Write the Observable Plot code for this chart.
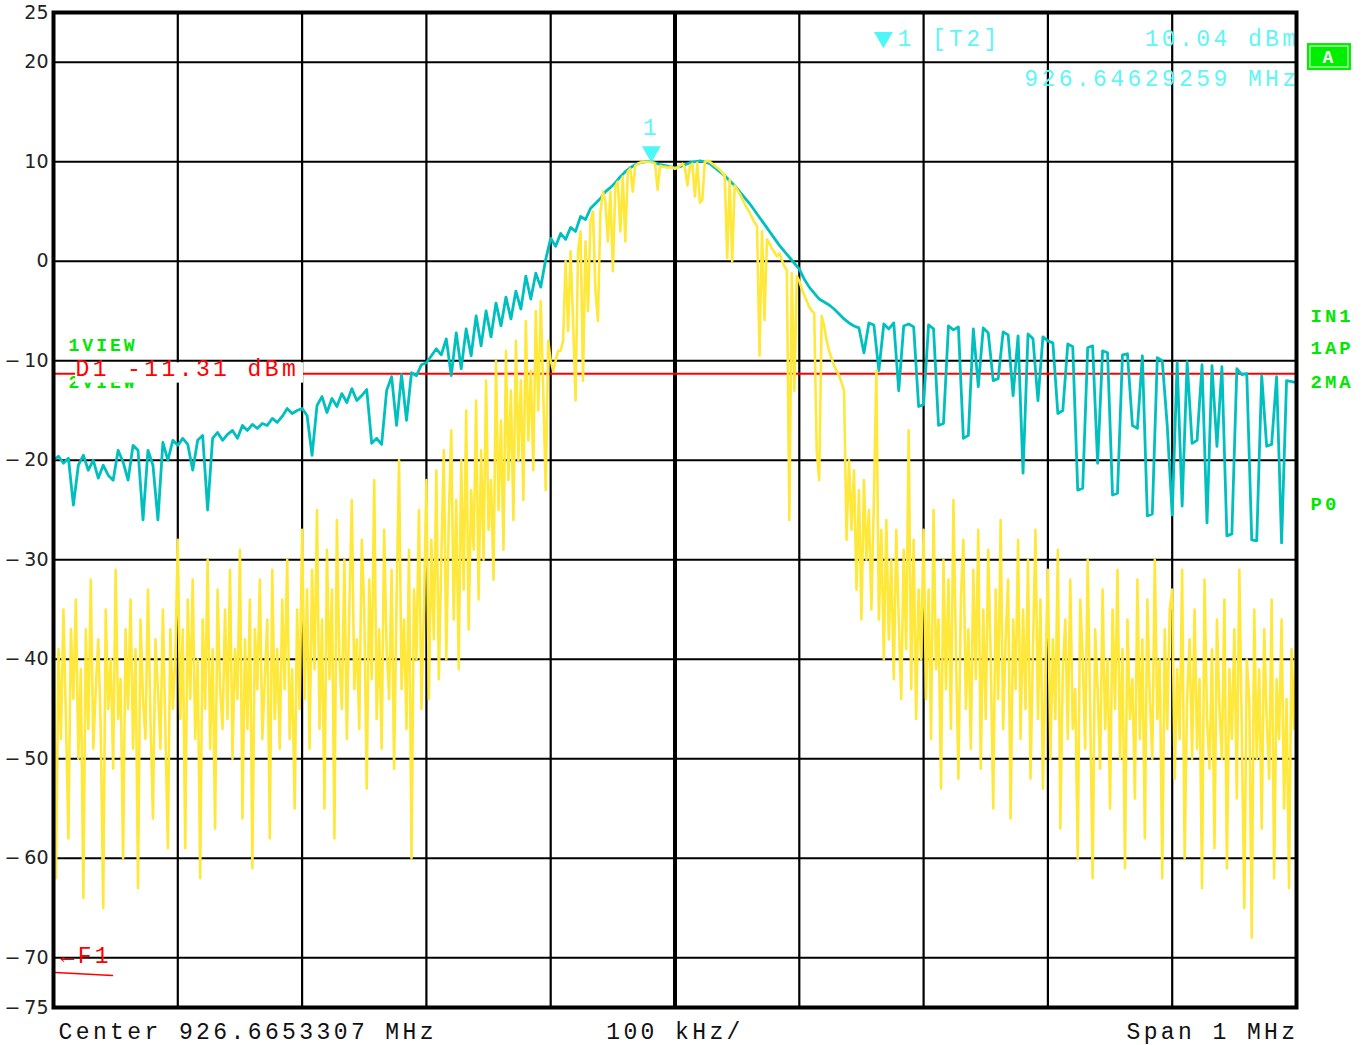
<!DOCTYPE html>
<html><head><meta charset="utf-8">
<script src="https://cdn.jsdelivr.net/npm/d3@7"></script>
<script src="https://cdn.jsdelivr.net/npm/@observablehq/plot@0.6"></script>
<style>body{margin:0;background:#fff;} #chart svg{display:block;}</style>
</head><body><div id="chart"></div>
<script>
// ---- instrument settings / labels ----
const centerMHz = 926.6653307;
const spanKHz = 1000;
const yTicks = [25, 20, 10, 0, -10, -20, -30, -40, -50, -60, -70, -75];
const yGrid = [20, 10, 0, -10, -20, -30, -40, -50, -60, -70];
const xGridKHz = [-400, -300, -200, -100, 100, 200, 300, 400];
const displayLine = -11.31;
const markerFreqMHz = 926.64629259;
const markerLevel = 10.04;
const sideLabels = ["IN1", "1AP", "2MA", "P0"];
const sideLevels = [-5.45, -8.67, -12.09, -24.35];

// ---- trace 1 (yellow, clear/write), 501 sweep points ----
const yellowTrace = [
-36,-62,-39,-48,-35,-46,-58,-37,-44,-34,-50,-41,-64,-37,-47,-32,-49,-43,-38,-47,-65,-35,-45,-40,-51,-31,-46,-42,-60,-37,-45,-34,-49,-39,-63,-36,-44,-48,-33,-46,-56,-38,-43,-49,-35,-47,-59,-37,-45,-40,
-28,-46,-37,-59,-34,-44,-32,-48,-40,-62,-36,-45,-30,-49,-39,-57,-33,-43,-47,-35,-46,-31,-50,-39,-44,-29,-56,-38,-47,-34,-61,-37,-43,-32,-48,-42,-36,-58,-31,-46,-39,-49,-34,-43,-30,-48,-41,-55,-35,-45,
-27,-44,-33,-49,-31,-41,-25,-47,-36,-55,-29,-42,-33,-58,-26,-40,-45,-30,-48,-35,-24,-43,-38,-47,-28,-35,-53,-32,-42,-22,-46,-37,-49,-27,-39,-44,-31,-51,-34,-20,-43,-36,-47,-29,-60,-33,-40,-25,-45,-35,
-22,-44,-28,-38,-21,-42,-30,-19,-40,-26,-17,-36,-24,-41,-20,-33,-15,-37,-23,-29,-14,-34,-19,-30,-12,-27,-22,-32,-10,-25,-16,-29,-9,-22,-13,-26,-8,-20,-12,-24,-6,-18,-11,-21,-5,-15,-4,-13,-23,-8,
-10,-11,-10,-9,-9,-8,0,-7,1,-6,-14,1,3,-12,2,-5,4,5,-3,-6,5,7,6,2,7,-1,7.5,8,3,8.5,2,9,9.3,7,9.6,9.8,9.9,10,10,10,10,9.9,9.8,7.2,9.6,9.5,9.5,9.4,9.5,9.4,
9.3,
9.4,9.6,9.8,9.4,7.6,9.6,9.8,6.5,9.9,5.9,6.2,10,10.1,10,9.8,9.6,9.4,9.2,8.9,8.6,0.3,8.2,0,7.6,7.2,6.8,6.3,5.8,5.3,4.9,4.4,3.9,3.5,-9.5,3.0,-5.9,2.2,1.8,1.3,0.9,0.5,0.8,0.1,-0.5,-0.9,-26,-1.2,-13,-1.5,
-2,-2.8,-3.4,-4,-4.6,-5,-5.2,-19,-22,-5.5,-6.5,-8,-9,-9.8,-10.5,-11,-11.5,-12.2,-13,-28,-20,-27,-21,-33,-23,-36,-22,-30,-25,-35,-24,-11,-36,-27,-40,-26,-38,-30,-42,-27,-36,-44,-29,-39,-17,-43,-28,-46,-33,-40,
-27,-44,-33,-48,-25,-41,-36,-53,-30,-43,-32,-47,-24,-39,-52,-34,-28,-45,-37,-49,-31,-42,-27,-51,-35,-46,-29,-40,-55,-33,-44,-26,-47,-38,-32,-56,-36,-43,-28,-48,-35,-45,-30,-52,-39,-27,-46,-34,-53,-41,
-31,-50,-38,-46,-29,-57,-41,-36,-48,-32,-47,-43,-60,-34,-40,-49,-30,-45,-62,-37,-43,-51,-33,-47,-40,-55,-35,-45,-31,-50,-39,-61,-36,-46,-42,-54,-32,-48,-38,-58,-34,-44,-50,-30,-46,-40,-62,-37,-47,-35,
-33,-52,-41,-48,-31,-60,-44,-38,-50,-35,-49,-42,-63,-32,-46,-51,-39,-59,-36,-45,-50,-34,-61,-41,-48,-37,-54,-31,-47,-65,-40,-44,-68,-35,-50,-41,-57,-37,-46,-52,-34,-62,-42,-48,-36,-55,-44,-63,-39,-47,-36
];

// ---- trace 2 (cyan, max hold), 251 points ----
const cyanTrace = [
-20,-19.6,-20.3,-19.8,-24.5,-20.5,-19.5,-21,-20,-21.8,-20.5,-21.5,-22,-19,-20.2,-22,-18.5,-19,-26,-19,-20.5,-26,-18.2,-20,-18,
-18.5,-17.8,-18.4,-21,-18,-17.5,-25,-17.8,-17.2,-18,-17.4,-17,-17.8,-16.5,-17,-16.4,-16.8,-16.3,-16.5,-15.8,-16.2,-15.6,-14.8,-15.3,-15,
-14.8,-15.5,-19.5,-14.5,-13.6,-15.2,-13.8,-14.6,-13.3,-14.2,-12.8,-14,-13.5,-12.9,-18.3,-17.8,-18.4,-13,-11.6,-16.5,-11.4,-16,-11.2,-11.5,-10.4,
-10.2,-9.5,-8.8,-9.4,-7.8,-11.5,-7.2,-10.8,-6.8,-9.5,-5.5,-8.5,-5,-7.6,-4.2,-6.5,-3.6,-5.8,-3,-4.8,-1.5,-3.8,-1.2,-2.6,0.2,
2.3,1.5,2.8,2.2,3.4,3.0,4.5,4.2,5.3,5.8,6.3,7.0,7.4,7.9,8.5,9.0,9.4,9.7,9.9,10.0,10.04,9.9,9.7,9.6,9.5,
9.4,
9.5,9.7,9.9,10.0,10.1,10.0,9.8,9.4,9.0,8.6,8.1,7.6,7.0,6.4,5.8,5.1,4.4,3.7,3.0,2.3,1.6,1.0,0.4,-0.2,-0.8,
-1.8,-2.6,-3.2,-3.8,-4.1,-4.4,-4.8,-5.3,-5.8,
-6.2,-6.5,-6.7,-9.2,-6.2,-6.4,-11,-6.3,-6.8,-6.2,-13,-6.5,-6.3,-6.6,-14.6,-14.4,-6.4,-6.8,-16.5,-16.3,
-6.5,-6.9,-6.6,-17.8,-17.5,-6.8,-12.6,-6.7,-7.2,-12,-11.8,-7.1,-7.4,-13.5,-7.5,-21.3,-7.3,-7.8,-14,-7.6,
-8,-8.2,-15.3,-15,-8.3,-8.6,-23,-22.8,-8.7,-8.5,-20.3,-9,-9.2,-23.5,-23.3,-9.4,-9.3,-16.5,-16.8,-9.5,
-25.6,-25.4,-9.7,-10,-16.5,-25.5,-10.2,-24.6,-10.1,-18.3,-18,-10.4,-26.3,-10.5,-18.6,-10.6,-27.6,-27.4,-10.8,-11.4,
-11.3,-28,-28.1,-11.5,-18.6,-18.4,-11.6,-28.3,-12,-12.1,-12.2
];

const toRows = arr => arr.map((v, i) => ({k: -spanKHz / 2 + i * spanKHz / (arr.length - 1), v}));
const yellowRows = toRows(yellowTrace);
const cyanRows = toRows(cyanTrace);
const markerK = (markerFreqMHz - centerMHz) * 1000;

const MONO = "Liberation Mono";
const CY = "#5ff6f6", GR = "#00e800", RED = "#ff0000";

const plot = Plot.plot({
  width: 1364, height: 1045,
  marginLeft: 53, marginRight: 68, marginTop: 12, marginBottom: 38,
  x: {domain: [-500, 500], axis: null},
  y: {domain: [-75, 25], ticks: yTicks, tickSize: 0, tickPadding: 5, label: null,
      tickFormat: d => d < 0 ? "\u2212\u2009" + (-d) : String(d)},
  style: {fontFamily: "DejaVu Sans", fontSize: "19px", color: "#222", background: "white", overflow: "visible"},
  marks: [
    Plot.ruleY(yGrid, {stroke: "black", strokeWidth: 2.2}),
    Plot.ruleX(xGridKHz, {stroke: "black", strokeWidth: 2.2}),
    Plot.ruleX([0], {stroke: "black", strokeWidth: 4}),
    Plot.ruleY([displayLine], {stroke: RED, strokeWidth: 2}),
    Plot.line(cyanRows, {x: "k", y: "v", stroke: "#00bfbf", strokeWidth: 2.8}),
    Plot.line(yellowRows, {x: "k", y: "v", stroke: "#ffe83c", strokeWidth: 2.6}),
    // display line label (2VIEW mostly hidden behind the D1 box, as on the instrument)
    Plot.text(["2VIEW"], {x: -487.9, y: -12.2, text: d => d, textAnchor: "start", fill: GR, fontFamily: MONO, fontWeight: "bold", fontSize: 18}),
    Plot.rect([0], {x1: -482.3, x2: -298.9, y1: -10.2, y2: -12.25, fill: "white"}),
    Plot.text(["D1 -11.31 dBm"], {x: -482.3, y: -10.75, text: d => d, textAnchor: "start", fill: RED, fontFamily: MONO, fontSize: 23}),
    Plot.text(["1VIEW"], {x: -487.9, y: -8.45, text: d => d, textAnchor: "start", fill: GR, fontFamily: MONO, fontWeight: "bold", fontSize: 18}),
    // marker
    Plot.dot([markerLevel], {x: markerK, y: 11.0, symbol: "triangle", rotate: 180, r: 7, fill: "#4ef7f7", stroke: "none"}),
    Plot.text(["1"], {x: markerK, y: 13.44, text: d => d, fill: CY, fontFamily: MONO, fontSize: 23}),
    Plot.dot([0], {x: 167.7, y: 22.5, symbol: "triangle", rotate: 180, r: 7, fill: "#4ef7f7", stroke: "none"}),
    Plot.text(["1 [T2]"], {x: 179, y: 22.4, text: d => d, textAnchor: "start", fill: CY, fontFamily: MONO, fontSize: 23}),
    Plot.text([markerLevel.toFixed(2) + " dBm"], {x: 500, y: 22.4, dx: 3, text: d => d, textAnchor: "end", fill: CY, fontFamily: MONO, fontSize: 23}),
    Plot.text([markerFreqMHz.toFixed(8) + " MHz"], {x: 500, y: 18.37, dx: 3, text: d => d, textAnchor: "end", fill: CY, fontFamily: MONO, fontSize: 23}),
    // F1
    Plot.text(["\u2190F1"], {x: -494.4, y: -69.8, text: d => d, textAnchor: "start", fill: RED, fontFamily: MONO, fontSize: 23}),
    Plot.line([{k: -498.4, v: -71.48}, {k: -452.5, v: -71.78}], {x: "k", y: "v", stroke: RED, strokeWidth: 1.5}),
    Plot.frame({stroke: "black", strokeWidth: 4}),
    // side annotations
    Plot.text(sideLabels, {x: 511.3, y: (d, i) => sideLevels[i], text: d => d, textAnchor: "start", fill: GR, fontFamily: MONO, fontWeight: "bold", fontSize: 19}),
    Plot.rect([0], {x1: 508.8, x2: 544.2, y1: 21.88, y2: 19.17, fill: "#00ee00"}),
    Plot.rect([0], {x1: 508.8, x2: 544.2, y1: 21.88, y2: 19.17, fill: "none", stroke: "white", strokeWidth: 1, inset: 3}),
    Plot.text(["A"], {x: 526.5, y: 20.55, text: d => d, fill: "white", fontFamily: MONO, fontWeight: "bold", fontSize: 18}),
    // bottom
    Plot.text(["Center " + centerMHz.toFixed(7) + " MHz"], {x: -496, y: -77.4, text: d => d, textAnchor: "start", fill: "#111", fontFamily: MONO, fontSize: 23}),
    Plot.text([(spanKHz / 10) + " kHz/"], {x: 0, y: -77.4, text: d => d, fill: "#111", fontFamily: MONO, fontSize: 23}),
    Plot.text(["Span 1 MHz"], {x: 500, y: -77.4, dx: 2, text: d => d, textAnchor: "end", fill: "#111", fontFamily: MONO, fontSize: 23})
  ]
});
document.getElementById("chart").appendChild(plot);
plot.querySelectorAll("text").forEach(t => {
  const cs = getComputedStyle(t);
  if (cs.fontFamily.includes("Liberation Mono")) {
    t.setAttribute("letter-spacing", (cs.fontWeight === "700" || cs.fontWeight === "bold") ? "3" : "3.4");
  }
});
</script>
</body></html>
